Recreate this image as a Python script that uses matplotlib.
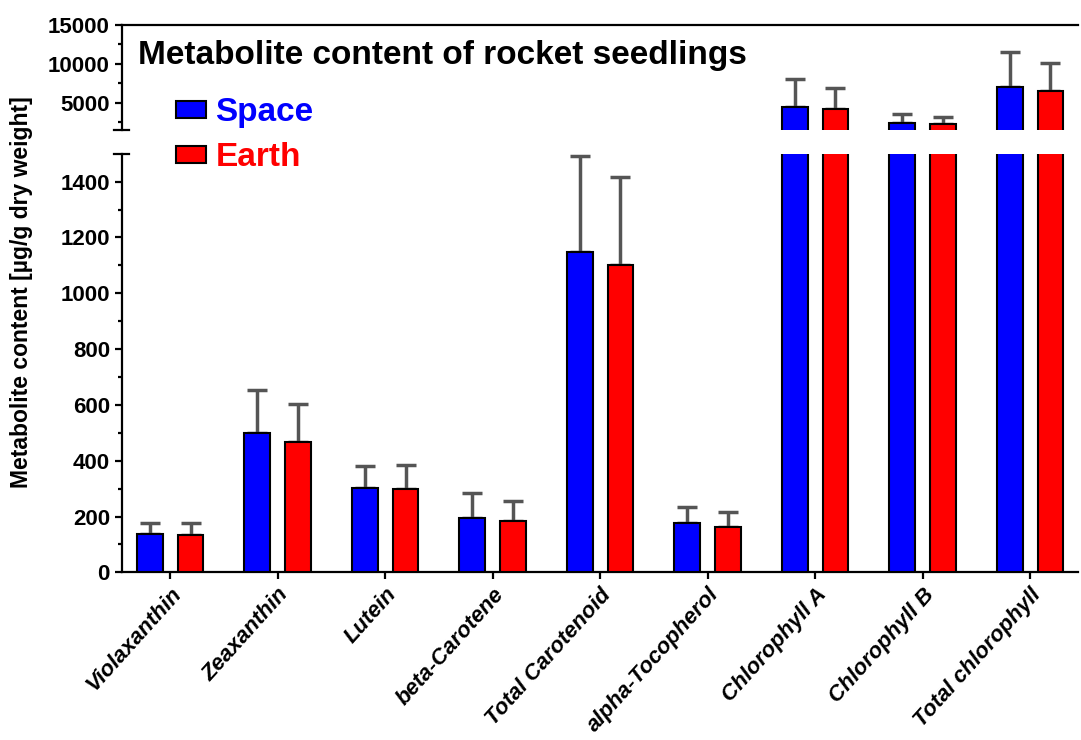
import numpy as np
import matplotlib
matplotlib.use("Agg")
from matplotlib import pyplot as plt
from matplotlib.patches import Patch
from matplotlib.ticker import FixedLocator

plt.rcParams['font.family'] = ['Liberation Sans', 'DejaVu Sans']
plt.rcParams['font.weight'] = 'bold'

categories = ["Violaxanthin", "Zeaxanthin", "Lutein", "beta-Carotene", "Total Carotenoid",
              "alpha-Tocopherol", "Chlorophyll A", "Chlorophyll B", "Total chlorophyll"]
space_mean = [136, 498, 303, 196, 1149, 175, 4485, 2349, 7059]
space_sd = [40, 155, 77, 87, 344, 58, 3565, 1158, 4427]
earth_mean = [134, 466, 298, 185, 1101, 163, 4189, 2220, 6506]
earth_sd = [42, 137, 87, 71, 315, 54, 2741, 980, 3642]

x = np.arange(len(categories))
w = 0.24
off = 0.19
blue = "#0000ff"
red = "#ff0000"
errc = "#555555"
brk = 1500

fig = plt.figure(figsize=(10.81, 7.40), dpi=100)
axl = fig.add_axes([0.1126, 0.2266, 0.885, 0.5656])
axu = fig.add_axes([0.1126, 0.8243, 0.885, 0.1419], sharex=axl)


def draw(ax, upper):
    for xs, m, sd, col in ((x - off, space_mean, space_sd, blue),
                           (x + off, earth_mean, earth_sd, red)):
        m = np.array(m)
        sd = np.array(sd)
        ax.bar(xs, m, w, color=col, edgecolor="black", linewidth=1.5, zorder=3)
        keep = m > brk if upper else m < brk
        ax.errorbar(xs[keep], m[keep], yerr=[np.zeros(keep.sum()), sd[keep]], fmt="none",
                    ecolor=errc, elinewidth=2.5, capsize=7, capthick=2.5, zorder=2)
    ax.spines["right"].set_visible(False)
    for s in ax.spines.values():
        s.set_linewidth(1.6)
    ax.tick_params(axis="both", which="major", width=1.6, length=5, labelsize=16)
    ax.tick_params(axis="both", which="minor", width=1.6, length=3)


draw(axl, False)
draw(axu, True)

axl.set_xlim(-0.45, 8.45)
axl.set_ylim(0, brk)
axl.spines["top"].set_visible(False)
axl.yaxis.set_major_locator(FixedLocator([0, 200, 400, 600, 800, 1000, 1200, 1400]))
axl.yaxis.set_minor_locator(FixedLocator([100, 300, 500, 700, 900, 1100, 1300]))
axl.set_xticks(x)
axl.set_xticklabels(categories, rotation=48, ha="right", va="top", rotation_mode="anchor",
                    fontsize=16, fontstyle="italic", fontweight="bold")

axu.set_ylim(brk, 15000)
axu.spines["bottom"].set_visible(False)
axu.yaxis.set_major_locator(FixedLocator([5000, 10000, 15000]))
axu.yaxis.set_minor_locator(FixedLocator([2500, 7500, 12500]))
axu.tick_params(axis="x", which="both", bottom=False, labelbottom=False)

# break marks on the y axis
for ax in (axl, axu):
    ax.plot([-0.008, 0.008], [brk, brk], color="black", lw=1.6, clip_on=False,
            transform=ax.get_yaxis_transform())

fig.text(0.128, 0.925, "Metabolite content of rocket seedlings", fontsize=24,
         fontweight="bold", ha="left", va="center")
fig.text(0.02, 0.605, "Metabolite content [\u00b5g/g dry weight]", fontsize=16.5,
         fontweight="bold", rotation=90, ha="center", va="center")

handles = [Patch(facecolor=blue, edgecolor="black", linewidth=1.5),
           Patch(facecolor=red, edgecolor="black", linewidth=1.5)]
fig.legend(handles, ["Space", "Earth"], loc="upper left", bbox_to_anchor=(0.147, 0.891),
           frameon=False, labelcolor=[blue, red], prop={"size": 24, "weight": "bold"},
           handlelength=0.9, handleheight=0.4, handletextpad=0.3, labelspacing=0.42,
           borderpad=0)

fig.savefig("out.png", dpi=100)
